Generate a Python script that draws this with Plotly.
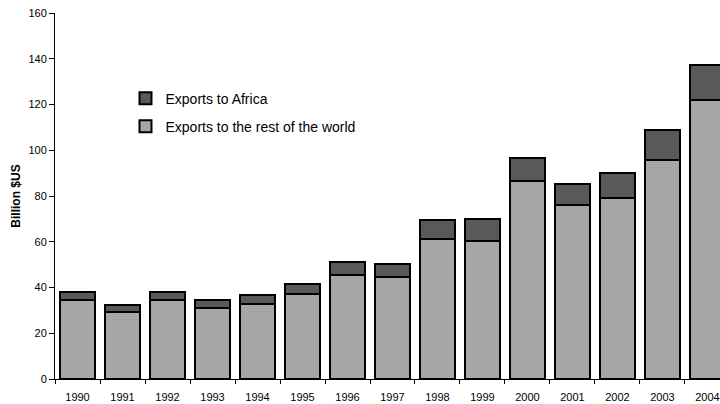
import plotly.graph_objects as go

years = [str(y) for y in range(1990, 2005)]
totals = [38.0, 32.2, 38.0, 34.5, 36.7, 41.5, 51.0, 50.1, 69.5, 70.0, 96.5, 85.1, 90.0, 108.9, 137.3]
rest_world = [34.5, 29.1, 34.5, 31.0, 33.0, 37.0, 45.6, 44.7, 61.0, 60.5, 86.6, 76.1, 79.0, 95.7, 122.0]
africa = [round(t - r, 1) for t, r in zip(totals, rest_world)]

font_family = "Liberation Sans, Arial, sans-serif"

fig = go.Figure()
fig.add_trace(go.Bar(
    x=years, y=rest_world, name="Exports to the rest of the world",
    marker=dict(color="#a6a6a6", line=dict(color="#000000", width=2)),
    legendgroup="rest", legendrank=2,
))
fig.add_trace(go.Bar(
    x=years, y=africa, name="Exports to Africa",
    marker=dict(color="#595959", line=dict(color="#000000", width=2)),
    legendgroup="africa", legendrank=1,
))

fig.update_layout(
    width=720, height=404,
    barmode="stack", bargap=0.22,
    plot_bgcolor="white", paper_bgcolor="white",
    margin=dict(l=55, r=0, t=13, b=25),
    font=dict(family=font_family, size=11, color="#000000"),
    showlegend=True,
    legend=dict(
        x=0.106, y=0.81, xanchor="left", yanchor="top",
        traceorder="grouped", tracegroupgap=7,
        font=dict(size=14), itemwidth=30,
        bgcolor="rgba(0,0,0,0)",
    ),
    xaxis=dict(
        type="category", range=[-0.5, 14.278],
        showline=True, linecolor="#000000", linewidth=1,
        ticks="outside", tickson="boundaries", ticklen=4, tickcolor="#000000",
        showgrid=False, zeroline=False,
        tickfont=dict(size=11), ticklabelstandoff=8,
    ),
    yaxis=dict(
        range=[0, 160], dtick=20,
        showline=True, linecolor="#000000", linewidth=1,
        ticks="outside", ticklen=5, tickcolor="#000000",
        showgrid=False, zeroline=False,
        tickfont=dict(size=11),
        title=dict(text="<b>Billion $US</b>", font=dict(size=12), standoff=5),
    ),
)

fig.write_html("out.html")
